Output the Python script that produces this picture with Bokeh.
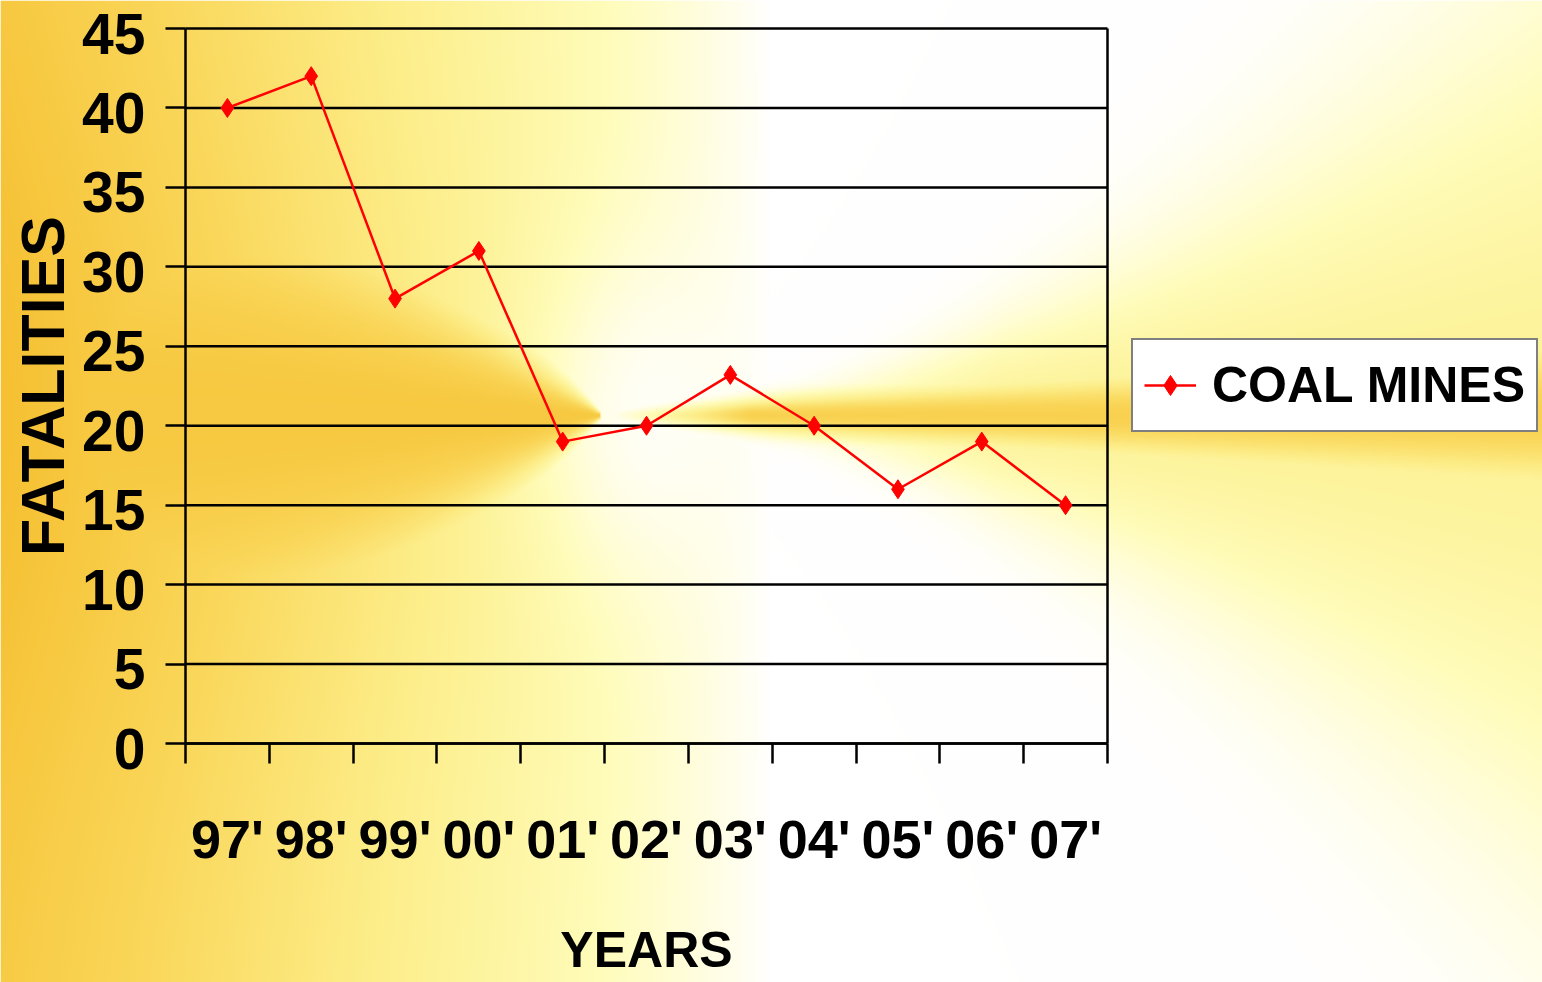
import numpy as np
from bokeh.plotting import figure
from bokeh.models import Range1d, LinearAxis, FixedTicker, Legend, LegendItem
from bokeh.core.properties import value
from bokeh.embed import file_html
from bokeh.resources import INLINE

# ---------------- data ----------------
years = ["97'", "98'", "99'", "00'", "01'", "02'", "03'", "04'", "05'", "06'", "07'"]
fatalities = [40, 42, 28, 31, 19, 20, 23.2, 20, 16, 19, 15]
y_ticks = [0, 5, 10, 15, 20, 25, 30, 35, 40, 45]
y_tick_labels = ["0", "5", "10", "15", "20", "25", "30", "35", "40", "45"]
series_name = "COAL MINES"
x_title = "YEARS"
y_title = "FATALITIES"

# ---------------- geometry (page pixels) ----------------
W, H = 1542, 982
OFF = 0
PL, PR, PT, PB = 185.0, 1107.0, 28.0, 743.0
n = len(years)
ymax = y_ticks[-1]
sx = (PR - PL) / n
sy = (PB - PT) / ymax
x_start = (OFF - PL) / sx
x_end = (OFF + W - PL) / sx
y_end = (PB - OFF) / sy
y_start = (PB - (OFF + H)) / sy

FONT = "Liberation Sans"

p = figure(width=W, height=H, x_range=Range1d(x_start, x_end), y_range=Range1d(y_start, y_end),
           output_backend="svg", toolbar_location=None, x_axis_location=None, y_axis_location=None,
           min_border=0, outline_line_color=None, title=None)
p.xgrid.visible = False
p.ygrid.visible = False

# ---------------- background gradient ----------------
nx, ny = W // 2, H // 2
X = OFF + (np.arange(nx) + 0.5) * W / nx
Y = OFF + (np.arange(ny) + 0.5) * H / ny
XX, YY = np.meshgrid(X, Y)
cx, cy = 600.0, 415.0
dx = XX - cx
dy = YY - cy
tx = np.clip((770 - XX) / 770, 0, 1) ** 0.85
tx = tx * (0.86 + 0.14 * np.exp(-(dy / 380) ** 2))
spot = 1 - 0.85 * np.exp(-(((XX - 650) / 110) ** 2 + ((YY - cy) / 170) ** 2))
tx = tx * spot
adx = np.abs(dx)
wl = 0.9 * adx + 3
tlb = np.where(dx < 0, 0.9 * np.exp(-(dy / wl) ** 2), 0)
dxp = np.maximum(dx, 0)
w1 = 0.08 * dxp + 4
trb = np.where(dx > 0, 0.8 * np.clip(dxp / 150, 0, 1) * np.exp(-(dy / w1) ** 2), 0)
w2 = 0.44 * dxp * (dxp / 942) ** 0.8 + 1
trw = np.where(dx > 0, 0.42 * np.clip(dxp / 400, 0, 1) * np.exp(-(dy / w2) ** 2), 0)
t = np.maximum.reduce([tx, tlb, trb, trw])
stops = [0, 0.25, 0.5, 0.75, 1.0]
R = np.interp(t, stops, [255, 255, 253, 250, 246])
G = np.interp(t, stops, [255, 252, 238, 214, 192])
B = np.interp(t, stops, [255, 185, 138, 88, 50])
img = np.empty((ny, nx), dtype=np.uint32)
view = img.view(dtype=np.uint8).reshape((ny, nx, 4))
view[:, :, 0] = R.astype(np.uint8)
view[:, :, 1] = G.astype(np.uint8)
view[:, :, 2] = B.astype(np.uint8)
view[:, :, 3] = 255
img = img[::-1].copy()
p.image_rgba(image=[img], x=x_start, y=y_start, dw=x_end - x_start, dh=y_end - y_start, level="image")

# ---------------- grid lines & right frame line ----------------
p.segment(x0=[0] * len(y_ticks), x1=[n] * len(y_ticks), y0=y_ticks, y1=y_ticks,
          line_color="black", line_width=2.5)
p.segment(x0=[n], x1=[n], y0=[0], y1=[ymax], line_color="black", line_width=2.5)

# ---------------- axes ----------------
yaxis = LinearAxis(fixed_location=0, ticker=FixedTicker(ticks=y_ticks), bounds=(0, ymax),
                   major_label_overrides={v: "" for v in y_ticks},
                   axis_line_width=2.5, axis_line_color="black",
                   major_tick_line_width=2.5, major_tick_line_color="black",
                   major_tick_out=20, major_tick_in=0, minor_tick_line_color=None,
                   major_label_standoff=20, major_label_text_font=FONT,
                   major_label_text_font_style="bold", major_label_text_font_size="57px",
                   major_label_text_color="black",
                   axis_label=y_title, axis_label_text_font=FONT,
                   axis_label_text_font_style="bold", axis_label_text_font_size="61px",
                   axis_label_standoff=89, axis_label_text_color="black")
p.add_layout(yaxis, "left")

# y tick labels (sit slightly below their grid lines, as in the original)
p.text(x=[0] * len(y_ticks), y=y_ticks, text=y_tick_labels, x_offset=-40, y_offset=5,
       text_align="right", text_baseline="middle", text_color="black",
       text_font=value(FONT), text_font_style="bold", text_font_size="57px")

xticks_axis = LinearAxis(fixed_location=0, ticker=FixedTicker(ticks=list(range(n + 1))), bounds=(0, n),
                         major_label_overrides={i: "" for i in range(n + 1)},
                         axis_line_width=2.5, axis_line_color="black",
                         major_tick_line_width=2.5, major_tick_line_color="black",
                         major_tick_out=20, major_tick_in=0, minor_tick_line_color=None)
p.add_layout(xticks_axis, "below")

centers = [i + 0.5 for i in range(n)]
xlabels_axis = LinearAxis(fixed_location=0, ticker=FixedTicker(ticks=centers), bounds=(0, n),
                          major_label_overrides={c: lab for c, lab in zip(centers, years)},
                          axis_line_color=None, major_tick_line_color=None,
                          major_tick_out=0, major_tick_in=0, minor_tick_line_color=None,
                          major_label_standoff=65, major_label_text_font=FONT,
                          major_label_text_font_style="bold", major_label_text_font_size="54px",
                          major_label_text_color="black",
                          axis_label=x_title, axis_label_text_font=FONT,
                          axis_label_text_font_style="bold", axis_label_text_font_size="50px",
                          axis_label_standoff=50, axis_label_text_color="black")
p.add_layout(xlabels_axis, "below")

# ---------------- series ----------------
lr = p.line(x=centers, y=fatalities, line_color="red", line_width=2.5)
sr = p.scatter(x=centers, y=fatalities, marker="diamond", size=19, fill_color="red", line_color="red")

legend = Legend(items=[LegendItem(label=series_name, renderers=[lr, sr])],
                location=(1131, 550), margin=0, padding=11, spacing=0,
                glyph_width=52, glyph_height=50, label_standoff=16, label_height=68,
                label_text_font=FONT, label_text_font_style="bold", label_text_font_size="50px",
                label_text_color="black",
                border_line_color="black", border_line_width=2,
                background_fill_color="white", background_fill_alpha=1)
p.add_layout(legend, "center")

open("out.html", "w").write(file_html(p, INLINE))
